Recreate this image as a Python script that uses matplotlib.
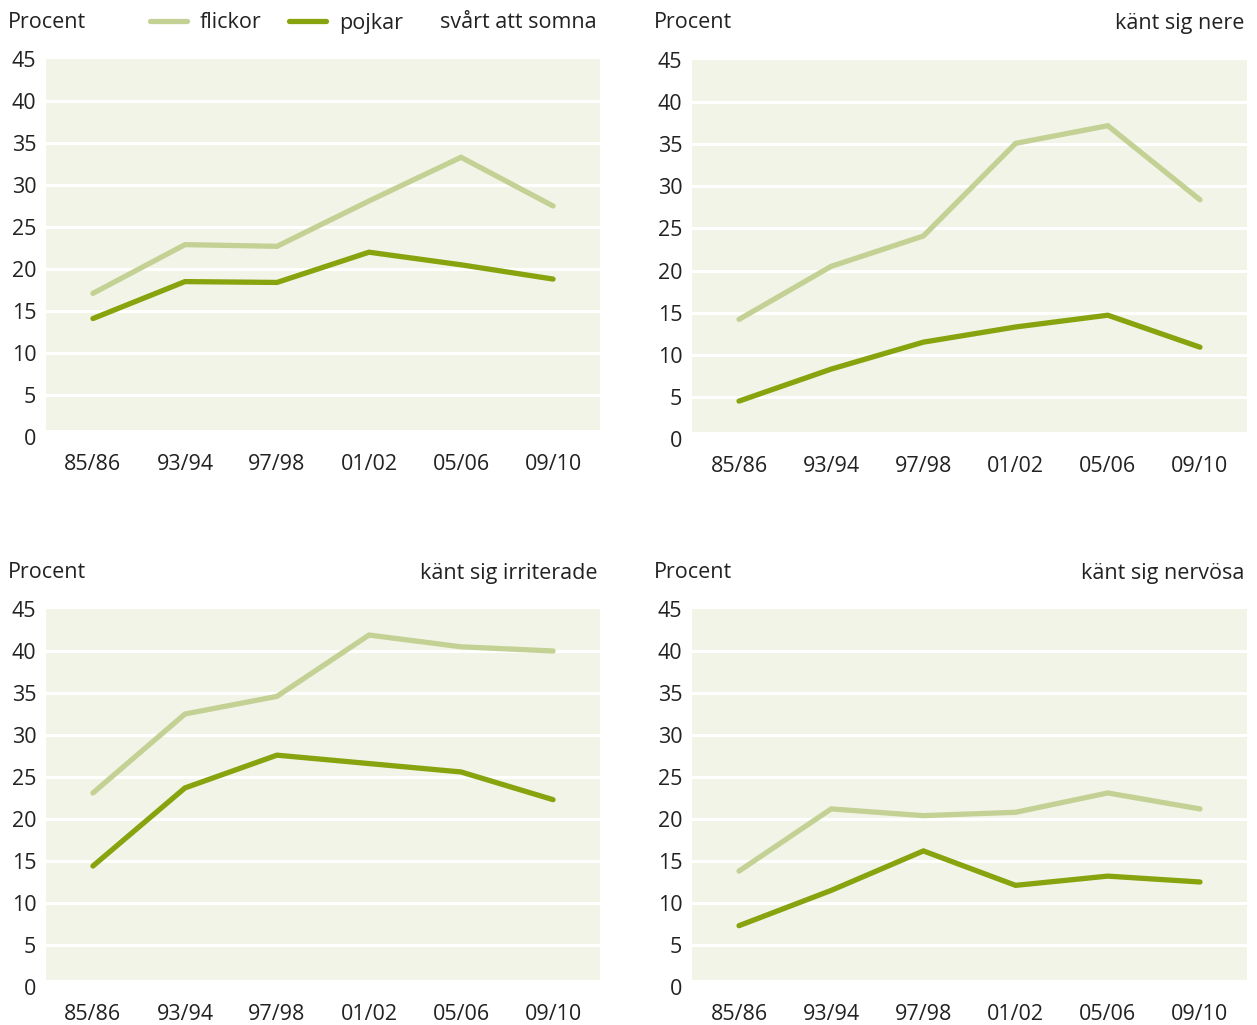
import matplotlib.pyplot as plt

plt.rcParams['font.family'] = ['Open Sans', 'DejaVu Sans']

periods = ['85/86', '93/94', '97/98', '01/02', '05/06', '09/10']

# svårt att somna
somna_flickor = [17.1, 22.9, 22.7, 28.1, 33.3, 27.5]
somna_pojkar = [14.1, 18.5, 18.4, 22.0, 20.5, 18.8]
# känt sig nere
nere_flickor = [14.2, 20.5, 24.1, 35.1, 37.2, 28.4]
nere_pojkar = [4.5, 8.3, 11.5, 13.3, 14.7, 10.9]
# känt sig irriterade
irr_flickor = [23.1, 32.5, 34.6, 41.9, 40.5, 40.0]
irr_pojkar = [14.4, 23.7, 27.6, 26.6, 25.6, 22.3]
# känt sig nervösa
nerv_flickor = [13.8, 21.2, 20.4, 20.8, 23.1, 21.2]
nerv_pojkar = [7.3, 11.5, 16.2, 12.1, 13.2, 12.5]

titles = ['svårt att somna', 'känt sig nere', 'känt sig irriterade', 'känt sig nervösa']
flickor = [somna_flickor, nere_flickor, irr_flickor, nerv_flickor]
pojkar = [somna_pojkar, nere_pojkar, irr_pojkar, nerv_pojkar]

c_light = '#c4d194'
c_dark = '#87a30d'
c_bg = '#f2f4e8'
c_text = '#222222'
fs = 15.5

W, H = 1257, 1025
fig = plt.figure(figsize=(W / 100, H / 100), dpi=100)

# axes boxes in pixels: left, right, y of value 0, y of value 45
boxes = [(46, 600, 437, 59), (692, 1247, 439, 60),
         (46, 600, 987, 609), (692, 1247, 987, 609)]
text_y = [23, 23, 573, 573]

x = list(range(len(periods)))
for i, (l, r, y0, y45) in enumerate(boxes):
    ax = fig.add_axes([l / W, 1 - y0 / H, (r - l) / W, (y0 - y45) / H])
    ax.set_facecolor('none')
    ax.axhspan(0.8, 45, color=c_bg, zorder=0, lw=0)
    for g in range(5, 45, 5):
        ax.axhline(g, color='white', lw=2.2, zorder=1)
    lf, = ax.plot(x, flickor[i], color=c_light, lw=3.8, zorder=3,
                  solid_capstyle='round', solid_joinstyle='miter', label='flickor')
    lp, = ax.plot(x, pojkar[i], color=c_dark, lw=3.8, zorder=4,
                  solid_capstyle='round', solid_joinstyle='miter', label='pojkar')
    ax.set_xlim(-0.51, 5.51)
    ax.set_ylim(0, 45)
    ax.set_yticks(range(0, 50, 5))
    ax.set_xticks(x)
    ax.set_xticklabels(periods)
    ax.tick_params(length=0, labelsize=fs, colors=c_text)
    ax.tick_params(axis='y', pad=7)
    ax.tick_params(axis='x', pad=12)
    for s in ax.spines.values():
        s.set_visible(False)
    fig.text((l - 38) / W, 1 - text_y[i] / H, 'Procent', fontsize=fs,
             color=c_text, ha='left', va='center')
    fig.text((r - 3) / W, 1 - text_y[i] / H, titles[i], fontsize=fs,
             color=c_text, ha='right', va='center')
    if i == 0:
        fig.legend(handles=[lf, lp], ncol=2, frameon=False, fontsize=fs,
                   loc='center left', bbox_to_anchor=(150 / W, 1 - 23 / H),
                   borderpad=0, borderaxespad=0, handlelength=1.7,
                   handletextpad=0.6, columnspacing=1.3, labelcolor=c_text)

fig.savefig('out.png', dpi=100)
